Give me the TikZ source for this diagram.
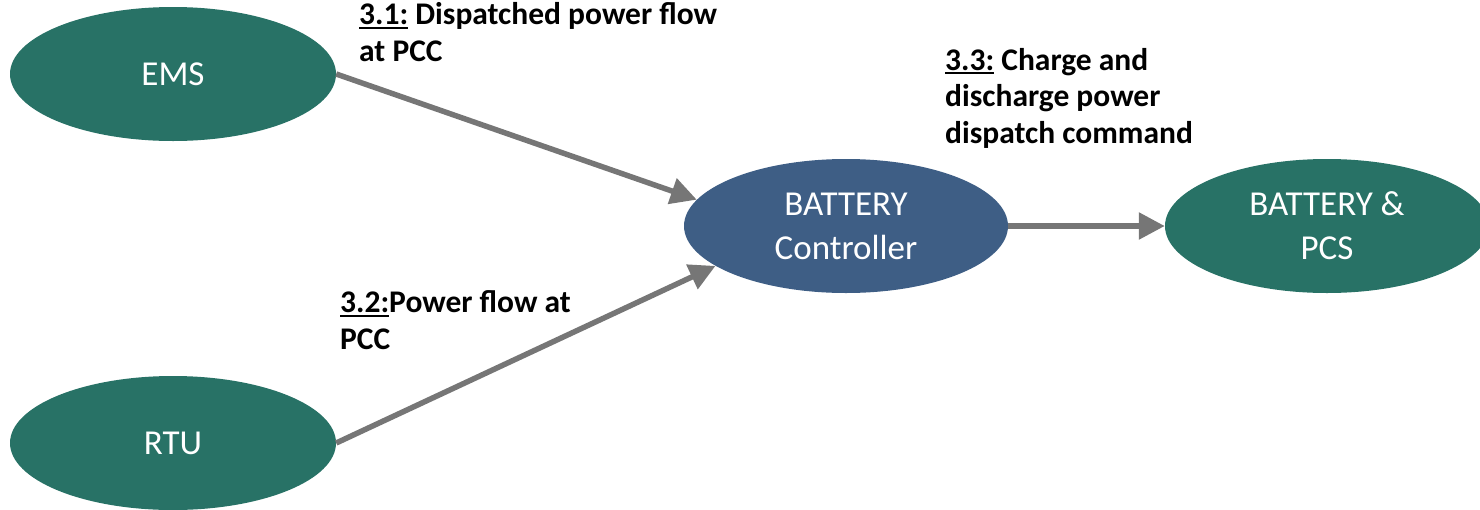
\documentclass[tikz,border=0pt]{standalone}
\usepackage{fontspec}
\setmainfont{Carlito}
\usetikzlibrary{shapes.geometric,arrows.meta}
\definecolor{nodegreen}{HTML}{287266}
\definecolor{nodeblue}{HTML}{3E5E85}
\definecolor{arrgray}{HTML}{767676}
\newcommand\myul[1]{\setbox0\hbox{#1}\rlap{\rule[-4pt]{\wd0}{2pt}}\box0\relax}
\tikzset{
  ent/.style={ellipse, fill=#1, draw=none, inner sep=0pt, minimum width=326pt, minimum height=134pt,
    text=white, align=center, font=\fontsize{35}{44}\selectfont},
  arr/.style={draw=arrgray, line width=5.5pt, -{Triangle[length=26pt,width=26pt]}},
  lbl/.style={anchor=base west, align=left, inner sep=0pt, font=\bfseries\fontsize{31.5}{36.5}\selectfont}
}
\begin{document}
\begin{tikzpicture}[x=1pt,y=-1pt]
\useasboundingbox (0,0) rectangle (1480,509);
\node[ent=nodegreen] (ems) at (173,74) {EMS};
\node[ent=nodegreen] (rtu) at (173,443) {RTU};
\node[ent=nodeblue, minimum width=324pt] (ctrl) at (846,226) {BATTERY\\Controller};
\node[ent=nodegreen, minimum width=324pt] (pcs) at (1327,226) {BATTERY \&\\PCS};
\draw[arr] (ems.east) -- (ctrl.170);
\draw[arr] (rtu.east) -- (ctrl.197);
\draw[arr] (ctrl.east) -- (pcs.west);
\node[lbl] (l1) at (359,61) {\myul{3.1:} Dispatched power flow\\at PCC};
\node[lbl] (l2) at (340,349) {\myul{3.2:}Power flow at\\PCC};
\node[lbl] (l3) at (945,143) {\myul{3.3:} Charge and\\discharge power\\dispatch command};
\end{tikzpicture}
\end{document}
